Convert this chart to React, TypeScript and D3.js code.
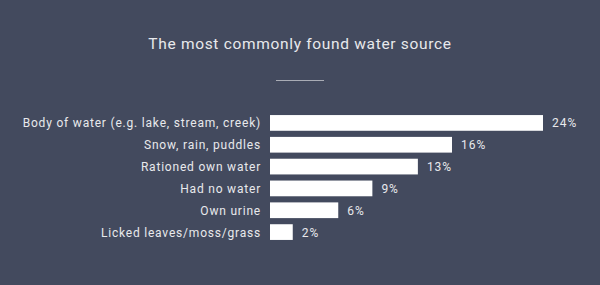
import React from "react";
import * as d3 from "d3";

const categories = [
  "Body of water (e.g. lake, stream, creek)",
  "Snow, rain, puddles",
  "Rationed own water",
  "Had no water",
  "Own urine",
  "Licked leaves/moss/grass",
];
const values = [24, 16, 13, 9, 6, 2];
const title = "The most commonly found water source";

const W = 600;
const H = 285;
const BG = "#434a5e";
const FG = "#ffffff";
const TEXT = "#e8e9ec";

export default function App() {
  const x = d3.scaleLinear().domain([0, 24]).range([270, 543]);
  const y = d3
    .scaleBand()
    .domain(categories)
    .range([112, 243])
    .paddingInner(0.28)
    .paddingOuter(0.14);
  const font = "Roboto, 'Noto Sans', sans-serif";
  return (
    <svg
      width={W}
      height={H}
      style={{ position: "absolute", left: 0, top: 0, display: "block" }}
    >
      <rect width={W} height={H} fill={BG} />
      <text
        x={300}
        y={48.5}
        textAnchor="middle"
        fill={TEXT}
        fontFamily={font}
        fontSize={15.5}
        letterSpacing={0.68}
      >
        {title}
      </text>
      <line x1={276} x2={324} y1={80.5} y2={80.5} stroke="#a9acb5" strokeWidth={1} />
      {categories.map((c, i) => {
        const yy = y(c)!;
        const bw = y.bandwidth();
        return (
          <g key={c}>
            <text
              x={261}
              y={yy + bw / 2 + 4.5}
              textAnchor="end"
              fill={TEXT}
              fontFamily={font}
              fontSize={12}
              letterSpacing={0.8}
            >
              {c}
            </text>
            <rect x={x(0)} y={yy} width={x(values[i]) - x(0)} height={bw} fill={FG} />
            <text
              x={x(values[i]) + 9}
              y={yy + bw / 2 + 4.5}
              fill={TEXT}
              fontFamily={font}
              fontSize={12}
              letterSpacing={1}
            >
              {values[i] + "%"}
            </text>
          </g>
        );
      })}
    </svg>
  );
}
